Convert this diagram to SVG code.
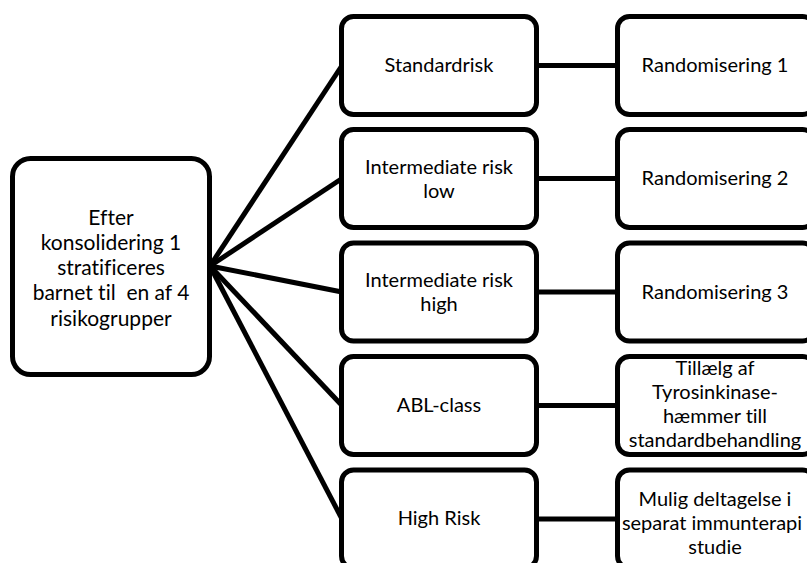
<svg xmlns="http://www.w3.org/2000/svg" width="807" height="563" viewBox="0 0 807 563">
  <style>
    .box { fill: #ffffff; stroke: #000000; stroke-width: 5; }
    .edge { stroke: #000000; stroke-width: 5; fill: none; }
    text { font-family: Lato, "Open Sans", sans-serif; font-size: 20px; fill: #000000; text-anchor: middle; font-variant-ligatures: none; }
    .big { font-size: 21px; }
  </style>
  <rect width="807" height="563" fill="#ffffff"/>
  <g id="connectors">
    <line class="edge" x1="210" y1="266" x2="342" y2="65.5"/>
    <line class="edge" x1="210" y1="266" x2="342" y2="178.5"/>
    <line class="edge" x1="210" y1="266" x2="342" y2="292"/>
    <line class="edge" x1="210" y1="266" x2="342" y2="405.5"/>
    <line class="edge" x1="210" y1="266" x2="342" y2="519"/>
    <line class="edge" x1="536" y1="65.5" x2="618" y2="65.5"/>
    <line class="edge" x1="536" y1="178.5" x2="618" y2="178.5"/>
    <line class="edge" x1="536" y1="292" x2="618" y2="292"/>
    <line class="edge" x1="536" y1="405.5" x2="618" y2="405.5"/>
    <line class="edge" x1="536" y1="519" x2="618" y2="519"/>
  </g>
  <g id="root">
    <rect class="box" x="12.5" y="158.5" width="197" height="216" rx="18"/>
    <text class="big" x="111" y="224.5">Efter</text>
    <text class="big" x="111" y="249.8">konsolidering 1</text>
    <text class="big" x="111" y="275.1">stratificeres</text>
    <text class="big" x="111" y="300.4" xml:space="preserve">barnet til  en af 4</text>
    <text class="big" x="111" y="325.7">risikogrupper</text>
  </g>
  <g id="standardrisk">
    <rect class="box" x="341.5" y="16.5" width="195" height="98" rx="12"/>
    <text x="439" y="72">Standardrisk</text>
  </g>
  <g id="ir-low">
    <rect class="box" x="341.5" y="129.5" width="195" height="98" rx="12"/>
    <text x="439" y="173.5">Intermediate risk</text>
    <text x="439" y="197.5">low</text>
  </g>
  <g id="ir-high">
    <rect class="box" x="341.5" y="243" width="195" height="98" rx="12"/>
    <text x="439" y="287">Intermediate risk</text>
    <text x="439" y="311">high</text>
  </g>
  <g id="abl">
    <rect class="box" x="341.5" y="356.5" width="195" height="98" rx="12"/>
    <text x="439" y="412">ABL-class</text>
  </g>
  <g id="high-risk">
    <rect class="box" x="341.5" y="470" width="195" height="98" rx="12"/>
    <text x="439" y="525">High Risk</text>
  </g>
  <g id="rand1">
    <rect class="box" x="617.5" y="16.5" width="197" height="98" rx="12"/>
    <text x="715" y="72">Randomisering 1</text>
  </g>
  <g id="rand2">
    <rect class="box" x="617.5" y="129.5" width="197" height="98" rx="12"/>
    <text x="715" y="185">Randomisering 2</text>
  </g>
  <g id="rand3">
    <rect class="box" x="617.5" y="243" width="197" height="98" rx="12"/>
    <text x="715" y="299">Randomisering 3</text>
  </g>
  <g id="tki">
    <rect class="box" x="617.5" y="356.5" width="197" height="98" rx="12"/>
    <text x="715" y="375">Tillælg af</text>
    <text x="715" y="399">Tyrosinkinase-</text>
    <text x="715" y="423">hæmmer till</text>
    <text x="715" y="447">standardbehandling</text>
  </g>
  <g id="immuno">
    <rect class="box" x="617.5" y="470" width="197" height="98" rx="12"/>
    <text x="715" y="506">Mulig deltagelse i</text>
    <text x="712" y="530">separat immunterapi</text>
    <text x="715" y="554">studie</text>
  </g>
</svg>
